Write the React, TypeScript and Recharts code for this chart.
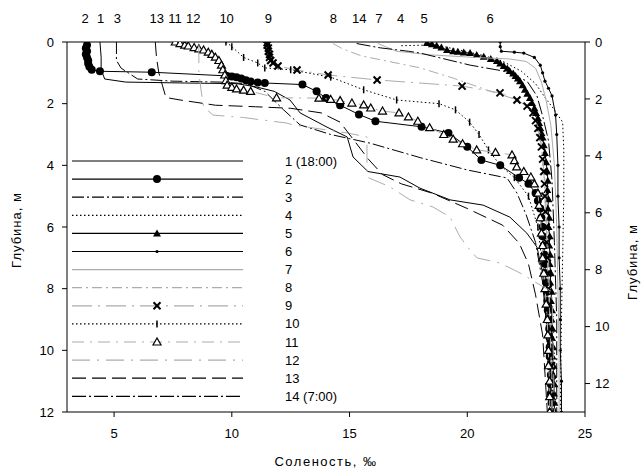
import React from 'react';
import { ScatterChart, Scatter, XAxis, YAxis } from 'recharts';

// profiles: [salinity ‰, depth m]
const p1 = [[4.4, 0], [4.45, 0.5], [4.45, 0.9], [4.6, 1.2], [5.5, 1.3], [8, 1.33], [10.2, 1.35], [11.0, 1.45], [11.8, 1.6], [12.47, 1.88], [12.9, 2.3], [14.04, 2.76], [14.9, 3.08], [15.15, 3.73], [15.78, 4.2], [17.14, 4.38], [17.99, 4.74], [19.27, 5.12], [20.67, 5.29], [21.81, 5.68], [22.53, 6.2], [22.96, 6.65], [23.2, 7.5], [23.4, 9], [23.5, 10.5], [23.6, 12]];
const p2 = [[3.85, 0.1], [3.8, 0.2], [3.85, 0.3], [3.8, 0.4], [3.85, 0.5], [3.9, 0.6], [3.9, 0.7], [3.95, 0.8], [4.05, 0.9], [4.4, 0.95], [6.6, 0.98], [9.8, 1.1], [10.0, 1.12], [10.2, 1.14], [10.4, 1.18], [10.6, 1.24], [10.8, 1.28], [11.1, 1.31], [11.4, 1.33], [13.0, 1.38], [13.6, 1.6], [14.0, 1.82], [14.6, 2.05], [15.4, 2.35], [16.1, 2.57], [18.06, 2.75], [19.2, 2.95], [20.0, 3.4], [20.6, 3.83], [21.4, 4.0], [22.2, 4.4], [22.6, 4.6], [22.9, 4.9], [23.0, 5.15], [23.1, 5.4], [23.15, 5.7], [23.2, 6.0], [23.2, 6.3], [23.25, 6.6], [23.28, 6.9], [23.3, 7.2], [23.32, 7.5], [23.35, 7.8], [23.38, 8.1], [23.4, 8.4], [23.42, 8.7], [23.45, 9.0], [23.48, 9.3], [23.5, 9.6], [23.5, 9.9], [23.5, 10.2], [23.52, 10.5], [23.55, 10.8], [23.55, 11.1], [23.55, 11.4], [23.58, 11.7], [23.6, 12]];
const p3 = [[5.1, 0], [5.1, 0.6], [5.3, 0.85], [5.6, 1.0], [6.0, 1.2], [7.5, 1.27], [9.5, 1.3], [10.6, 1.35], [11.4, 1.6], [12.2, 2.2], [12.9, 2.69], [14.2, 3.0], [15.87, 3.28], [18.0, 3.75], [20.0, 4.15], [21.69, 4.41], [22.11, 4.9], [22.5, 5.6], [22.9, 6.5], [23.2, 7.8], [23.4, 9.5], [23.5, 12]];
const p4 = [[17.2, 0.12], [18.3, 0.1], [19.0, 0.15], [19.8, 0.28], [20.6, 0.42], [21.5, 0.62], [22.3, 0.95], [22.9, 1.35], [23.3, 1.8], [23.7, 2.2], [24.05, 2.6], [24.1, 3.5], [24.1, 5], [24.05, 7], [24.0, 9], [23.95, 12]];
const p5 = [[18.29, 0.03], [18.5, 0.07], [18.7, 0.12], [18.9, 0.18], [19.14, 0.26], [19.4, 0.3], [19.6, 0.32], [19.85, 0.34], [20.12, 0.36], [20.4, 0.42], [20.7, 0.48], [21.0, 0.55], [21.26, 0.62], [21.4, 0.7], [21.55, 0.78], [21.7, 0.86], [21.8, 0.94], [21.95, 1.02], [22.05, 1.1], [22.15, 1.18], [22.24, 1.27], [22.35, 1.4], [22.45, 1.55], [22.55, 1.68], [22.66, 1.82], [22.75, 1.98], [22.85, 2.15], [22.92, 2.3], [23.0, 2.47], [23.05, 2.63], [23.1, 2.8], [23.15, 2.95], [23.2, 3.1], [23.25, 3.35], [23.3, 3.6], [23.35, 3.9], [23.4, 4.2], [23.42, 4.5], [23.4, 4.8], [23.45, 5.1], [23.42, 5.4], [23.48, 5.7], [23.45, 6.0], [23.5, 6.3], [23.48, 6.6], [23.52, 6.9], [23.5, 7.2], [23.55, 7.5], [23.52, 7.8], [23.58, 8.1], [23.55, 8.4], [23.6, 8.7], [23.58, 9.0], [23.62, 9.3], [23.6, 9.6], [23.65, 9.9], [23.62, 10.2], [23.66, 10.5], [23.65, 10.8], [23.7, 11.1], [23.68, 11.4], [23.7, 11.7], [23.7, 12]];
const p6 = [[21.4, 0], [21.4, 0.15], [21.45, 0.3], [22.0, 0.33], [22.4, 0.36], [22.85, 0.5], [23.1, 0.75], [23.2, 1.0], [23.3, 1.27], [23.45, 1.5], [23.6, 1.75], [23.75, 2.37], [23.8, 3], [23.85, 4], [23.85, 5], [23.9, 6], [23.9, 7], [23.95, 8], [23.95, 9], [23.95, 10], [24.0, 11], [24.0, 12]];
const p7 = [[16.2, 0.05], [17.0, 0.3], [18.5, 0.42], [20.3, 0.5], [21.8, 0.55], [22.5, 0.63], [22.9, 0.85], [23.15, 1.3], [23.35, 1.9], [23.55, 2.7], [23.7, 4], [23.8, 6], [23.85, 8], [23.9, 10], [23.9, 12]];
const p8 = [[14.3, 0.05], [14.7, 0.22], [15.5, 0.45], [16.6, 0.62], [18.0, 0.84], [19.4, 1.17], [20.84, 1.56], [22.24, 1.91], [22.8, 2.3], [23.1, 3], [23.3, 4.5], [23.45, 7], [23.55, 10], [23.6, 12]];
const p9 = [[11.5, 0.02], [11.5, 0.1], [11.55, 0.2], [11.55, 0.3], [11.6, 0.4], [11.6, 0.5], [11.65, 0.6], [11.75, 0.68], [11.96, 0.78], [12.77, 0.91], [14.09, 1.07], [16.17, 1.23], [19.78, 1.43], [21.39, 1.65], [22.11, 1.88], [22.54, 2.08], [22.79, 2.3], [22.9, 2.55], [23.0, 2.8], [23.08, 3.1], [23.15, 3.4], [23.2, 3.8], [23.25, 4.2], [23.28, 4.6], [23.3, 5], [23.32, 5.5], [23.35, 6], [23.38, 6.5], [23.4, 7], [23.42, 7.5], [23.45, 8], [23.48, 8.5], [23.5, 9], [23.52, 9.5], [23.55, 10], [23.58, 10.5], [23.6, 11], [23.6, 11.5], [23.6, 12]];
const p10 = [[9.75, 0], [10.0, 0.15], [10.5, 0.5], [11.1, 0.68], [11.4, 0.84], [12.5, 0.9], [14.2, 1.14], [15.6, 1.55], [17.0, 1.88], [18.8, 2.0], [19.5, 2.2], [20.1, 2.6], [20.5, 3.0], [20.9, 3.5], [21.4, 4.0], [22.0, 4.4], [22.6, 5], [23.0, 6], [23.3, 8], [23.5, 12]];
const p11 = [[7.6, 0], [7.8, 0.05], [8.0, 0.1], [8.15, 0.13], [8.4, 0.18], [8.6, 0.22], [8.8, 0.26], [9.0, 0.33], [9.15, 0.4], [9.3, 0.49], [9.45, 0.6], [9.56, 0.75], [9.62, 0.9], [9.7, 1.07], [9.75, 1.25], [9.8, 1.4], [10.0, 1.47], [10.2, 1.52], [10.5, 1.56], [10.8, 1.6], [11.9, 1.81], [13.7, 1.82], [14.2, 1.86], [14.6, 1.9], [15.1, 1.98], [15.6, 2.04], [15.9, 2.14], [16.4, 2.24], [17.1, 2.3], [17.5, 2.43], [17.9, 2.57], [18.4, 2.78], [19.0, 3.0], [19.4, 3.15], [19.8, 3.3], [20.4, 3.5], [21.2, 3.58], [21.9, 3.66], [22.0, 3.85], [22.1, 4.05], [22.4, 4.2], [22.7, 4.38], [22.85, 4.6], [23.0, 4.9], [23.05, 5.3], [23.1, 5.7], [23.15, 6.2], [23.2, 6.6], [23.2, 7], [23.25, 7.5], [23.3, 8], [23.35, 8.5], [23.4, 9], [23.42, 9.5], [23.45, 10], [23.45, 10.5], [23.5, 11], [23.5, 11.5], [23.5, 12]];
const p12 = [[8.6, 0.1], [8.6, 1.0], [8.7, 1.6], [8.8, 2.1], [9.2, 2.37], [10.5, 2.45], [12.34, 2.63], [12.6, 2.69], [14.9, 2.95], [15.74, 3.08], [15.74, 4.05], [15.74, 4.38], [16.72, 4.7], [17.57, 5.12], [18.54, 5.35], [19.27, 5.68], [19.69, 6.32], [20.12, 6.75], [20.41, 7.0], [21.39, 7.17], [22.24, 7.49], [23.09, 7.88], [23.6, 8.1], [23.65, 10], [23.7, 12]];
const p13 = [[6.75, 0], [6.8, 0.5], [6.9, 1.0], [7.05, 1.4], [7.2, 1.8], [7.8, 1.88], [9.3, 2.05], [11.0, 2.1], [12.5, 2.15], [13.8, 2.3], [14.6, 2.6], [15.2, 3.2], [15.8, 3.8], [16.4, 4.3], [17.2, 4.6], [18.5, 4.9], [20.0, 5.4], [21.5, 5.94], [22.2, 6.52], [22.6, 7.2], [22.9, 8.2], [23.2, 9.5], [23.4, 12]];
const p14 = [[15.3, 0.05], [16.3, 0.19], [17.5, 0.3], [18.0, 0.36], [20.12, 0.75], [21.52, 0.94], [22.54, 1.27], [22.96, 1.75], [23.2, 2.4], [23.45, 3.2], [23.6, 4.5], [23.7, 6.5], [23.8, 9], [23.8, 12]];

const profiles = [p1, p2, p3, p4, p5, p6, p7, p8, p9, p10, p11, p12, p13, p14];
const legendNames = ['1 (18:00)', '2', '3', '4', '5', '6', '7', '8', '9', '10', '11', '12', '13', '14 (7:00)'];

// labels above the plot at each profile's surface salinity
const topValues = [3.77, 4.43, 5.14, 6.81, 7.59, 8.36, 9.78, 11.55, 14.31, 15.41, 16.25, 17.17, 18.17, 20.97];
const topNames = ['2', '1', '3', '13', '11', '12', '10', '9', '8', '14', '7', '4', '5', '6'];

const xTicks = [5, 10, 15, 20, 25];
const yTicks = [0, 2, 4, 6, 8, 10, 12];

const GRAY = '#acacac';
const STYLES = [
  { stroke: '#000', dash: undefined, marker: null },
  { stroke: '#000', dash: undefined, marker: 'circle' },
  { stroke: '#000', dash: '12 3 2 3', marker: null },
  { stroke: '#000', dash: '1.5 2.5', marker: null },
  { stroke: '#000', dash: undefined, marker: 'tri' },
  { stroke: '#000', dash: undefined, marker: 'dot' },
  { stroke: GRAY, dash: undefined, marker: null },
  { stroke: GRAY, dash: '10 4 2 4', marker: null },
  { stroke: GRAY, dash: '20 6 2 6', marker: 'x' },
  { stroke: '#000', dash: '1.5 2.5', marker: 'tick' },
  { stroke: GRAY, dash: '12 6 2 6', marker: 'otri' },
  { stroke: GRAY, dash: '18 7 2 7', marker: null },
  { stroke: '#000', dash: '14 6', marker: null },
  { stroke: '#000', dash: '14 3 2 3', marker: null },
];

function drawMarker(kind: string | null, cx: number, cy: number) {
  switch (kind) {
    case 'circle':
      return <circle cx={cx} cy={cy} r={4} fill="#000" />;
    case 'tri':
      return <polygon points={`${cx},${cy - 4} ${cx - 4},${cy + 3} ${cx + 4},${cy + 3}`} fill="#000" />;
    case 'dot':
      return <circle cx={cx} cy={cy} r={1.6} fill="#000" />;
    case 'x':
      return (
        <g stroke="#000" strokeWidth={2}>
          <line x1={cx - 3.5} y1={cy - 3.5} x2={cx + 3.5} y2={cy + 3.5} />
          <line x1={cx - 3.5} y1={cy + 3.5} x2={cx + 3.5} y2={cy - 3.5} />
        </g>
      );
    case 'tick':
      return <line x1={cx} y1={cy - 3.5} x2={cx} y2={cy + 3.5} stroke="#000" strokeWidth={1.5} />;
    case 'otri':
      return <polygon points={`${cx},${cy - 4} ${cx - 4},${cy + 3} ${cx + 4},${cy + 3}`} fill="#fff" stroke="#000" strokeWidth={1.2} />;
    default:
      return <g />;
  }
}

const textStyle = { fill: '#000', fontSize: 13 };

export default function App() {
  return (
    <div style={{ position: 'relative', width: 643, height: 473, fontFamily: '"Liberation Sans", Arial, sans-serif', background: '#fff' }}>
      <style>{'body{margin:0}'}</style>
      <ScatterChart width={643} height={473} margin={{ top: 0, right: 0, bottom: 0, left: 0 }}>
        <XAxis xAxisId="b" type="number" dataKey="s" domain={[3, 25]} ticks={xTicks} height={61}
          tickSize={5} tickMargin={12} stroke="#000" tick={textStyle} allowDataOverflow />
        <XAxis xAxisId="t" orientation="top" type="number" dataKey="s" domain={[3, 25]} ticks={topValues}
          interval={0} tickLine={false} tickSize={6} tickMargin={13} height={42} stroke="#000" tick={textStyle}
          tickFormatter={(v: number) => topNames[topValues.indexOf(v)]} allowDataOverflow />
        <YAxis yAxisId="l" type="number" dataKey="d" domain={[0, 12]} reversed ticks={yTicks} width={67}
          tickSize={5} tickMargin={8} stroke="#000" tick={textStyle} allowDataOverflow />
        <YAxis yAxisId="r" orientation="right" type="number" dataKey="d" domain={[0, 13]} reversed ticks={yTicks} width={58}
          tickSize={5} tickMargin={5} stroke="#000" tick={textStyle} allowDataOverflow />
        {profiles.map((p, i) => (
          <Scatter key={i} xAxisId="b" yAxisId="l" data={p.map(([s, d]) => ({ s, d }))}
            line={{ stroke: STYLES[i].stroke, strokeDasharray: STYLES[i].dash, strokeWidth: 1 }}
            lineJointType="linear" fill={STYLES[i].stroke} isAnimationActive={false}
            shape={(props: any) => drawMarker(STYLES[i].marker, props.cx, props.cy)} />
        ))}
      </ScatterChart>
      <svg width={643} height={473} style={{ position: 'absolute', left: 0, top: 0, pointerEvents: 'none' }}>
        {legendNames.map((name, i) => {
          const y = 161 + i * 18.1;
          return (
            <g key={name}>
              <line x1={72} x2={243} y1={y} y2={y} stroke={STYLES[i].stroke} strokeDasharray={STYLES[i].dash} strokeWidth={1.2} />
              {drawMarker(STYLES[i].marker, 157, y)}
              <text x={285} y={y + 4.5} fontSize={13} fill="#000">{name}</text>
            </g>
          );
        })}
        <text x={326} y={466} fontSize={13} letterSpacing={1.5} textAnchor="middle" fill="#000">Соленость, ‰</text>
        <text transform="translate(21,230) rotate(-90)" fontSize={13} letterSpacing={1} textAnchor="middle" fill="#000">Глубина, м</text>
        <text transform="translate(637,262) rotate(-90)" fontSize={13} letterSpacing={1} textAnchor="middle" fill="#000">Глубина, м</text>
      </svg>
    </div>
  );
}
